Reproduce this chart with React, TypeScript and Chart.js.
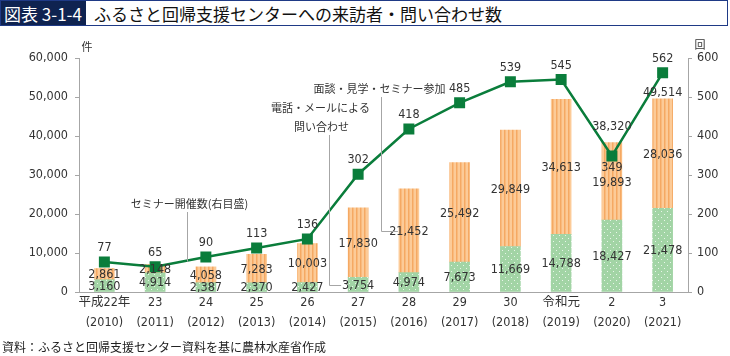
import React, { useEffect, useRef } from "react";
import { Chart, registerables } from "chart.js";

Chart.register(...registerables);

const categories: string[][] = [
  ["平成22年", "(2010)"],
  ["23", "(2011)"],
  ["24", "(2012)"],
  ["25", "(2013)"],
  ["26", "(2014)"],
  ["27", "(2015)"],
  ["28", "(2016)"],
  ["29", "(2017)"],
  ["30", "(2018)"],
  ["令和元", "(2019)"],
  ["2", "(2020)"],
  ["3", "(2021)"],
];
const phoneInquiries = [3160, 4914, 2387, 2370, 2427, 3754, 4974, 7673, 11669, 14788, 18427, 21478];
const visits = [2861, 2148, 4058, 7283, 10003, 17830, 21452, 25492, 29849, 34613, 19893, 28036];
const seminars = [77, 65, 90, 113, 136, 302, 418, 485, 539, 545, 349, 562];
const totalsShown: (number | null)[] = [null, null, null, null, null, null, null, null, null, null, 38320, 49514];
const leftTicks = [0, 10000, 20000, 30000, 40000, 50000, 60000];
const rightTicks = [0, 100, 200, 300, 400, 500, 600];

const FONT = "'Noto Sans CJK JP', 'Noto Sans', sans-serif";
const NUMFONT = "'Liberation Sans Narrow', 'DejaVu Sans Condensed', 'Noto Sans CJK JP', sans-serif";
const TXT = "#333333";
const LINE_GREEN = "#0a7d3b";

function makeGreenPattern(): CanvasPattern | string {
  const c = document.createElement("canvas");
  c.width = 6;
  c.height = 6;
  const g = c.getContext("2d");
  if (!g) return "#a2d6a4";
  g.fillStyle = "#a2d4a5";
  g.fillRect(0, 0, 6, 6);
  g.fillStyle = "#e8f5e9";
  g.fillRect(1, 1, 1, 1);
  g.fillRect(4, 4, 1, 1);
  return g.createPattern(c, "repeat") || "#a2d6a4";
}

function makeOrangePattern(): CanvasPattern | string {
  const c = document.createElement("canvas");
  c.width = 4;
  c.height = 4;
  const g = c.getContext("2d");
  if (!g) return "#f9c18a";
  g.fillStyle = "#fccb98";
  g.fillRect(0, 0, 4, 4);
  g.fillStyle = "#f5a963";
  g.fillRect(0, 0, 1.5, 4);
  return g.createPattern(c, "repeat") || "#f9c18a";
}

const fmt = (v: number) => v.toLocaleString("en-US");

const labelsPlugin = {
  id: "customLabels",
  afterDatasetsDraw(chart: any) {
    const ctx: CanvasRenderingContext2D = chart.ctx;
    ctx.save();
    ctx.font = `12.5px ${NUMFONT}`;
    ctx.fillStyle = TXT;
    ctx.textAlign = "center";
    ctx.textBaseline = "middle";
    // bar segment labels
    [0, 1].forEach((di) => {
      const meta = chart.getDatasetMeta(di);
      meta.data.forEach((el: any, i: number) => {
        const v = chart.data.datasets[di].data[i] as number;
        const cy = (el.y + el.base) / 2;
        ctx.fillText(fmt(v), el.x, cy + 1);
      });
    });
    // totals
    const topMeta = chart.getDatasetMeta(1);
    topMeta.data.forEach((el: any, i: number) => {
      const t = totalsShown[i];
      if (t == null) return;
      const off = i === 10 ? 16 : 6;
      ctx.fillText(fmt(t), el.x, el.y - off);
    });
    // line labels
    const lineMeta = chart.getDatasetMeta(2);
    lineMeta.data.forEach((el: any, i: number) => {
      const v = seminars[i];
      if (i === 10) ctx.fillText(String(v), el.x, el.y + 12);
      else ctx.fillText(String(v), el.x, el.y - 14);
    });
    ctx.restore();
  },
  afterDraw(chart: any) {
    const ctx: CanvasRenderingContext2D = chart.ctx;
    const xs = chart.scales.x;
    const y = chart.scales.y;
    const y1 = chart.scales.y1;
    const area = chart.chartArea;
    ctx.save();
    ctx.font = `11px ${FONT}`;
    ctx.fillStyle = TXT;
    ctx.textBaseline = "middle";
    // axis unit titles
    ctx.textAlign = "center";
    ctx.fillText("件", area.left + 8, area.top - 11);
    ctx.fillText("回", area.right + 12, area.top - 13);

    // annotations
    ctx.strokeStyle = "#a6a6a6";
    ctx.lineWidth = 1;
    const bx = (i: number) => xs.getPixelForValue(i);

    // seminar count label
    const segX = (bx(1) + bx(2)) / 2 + 6;
    ctx.fillText("セミナー開催数(右目盛)", segX + 3, 204);
    ctx.beginPath();
    ctx.moveTo(Math.round(segX) + 0.5, 212);
    ctx.lineTo(Math.round(segX) + 0.5, y1.getPixelForValue(78));
    ctx.stroke();

    // phone / mail inquiries
    const phX = Math.round(bx(5) - 29) + 0.5;
    ctx.fillText("電話・メールによる", phX - 9, 108);
    ctx.fillText("問い合わせ", phX - 8, 127);
    const phY = Math.round(y.getPixelForValue(phoneInquiries[5] / 2)) + 0.5;
    ctx.beginPath();
    ctx.moveTo(phX, 135);
    ctx.lineTo(phX, phY);
    ctx.lineTo(bx(5) - 17, phY);
    ctx.stroke();

    // visits
    const vX = Math.round(bx(6) - 28) + 0.5;
    ctx.fillText("面談・見学・セミナー参加", vX - 2, 89);
    const vY = Math.round(y.getPixelForValue(phoneInquiries[6] + visits[6] / 2)) + 0.5;
    ctx.beginPath();
    ctx.moveTo(vX, 97);
    ctx.lineTo(vX, vY);
    ctx.lineTo(bx(6) - 11, vY);
    ctx.stroke();
    ctx.restore();
  },
};

export default function App() {
  const ref = useRef<HTMLCanvasElement | null>(null);

  useEffect(() => {
    if (!ref.current) return;
    const green = makeGreenPattern();
    const orange = makeOrangePattern();
    const chart = new Chart(ref.current, {
      type: "bar",
      data: {
        labels: categories,
        datasets: [
          {
            type: "bar",
            label: "電話・メールによる問い合わせ",
            data: phoneInquiries,
            backgroundColor: green as any,
            barThickness: 20,
            stack: "s",
            yAxisID: "y",
            order: 2,
          },
          {
            type: "bar",
            label: "面談・見学・セミナー参加",
            data: visits,
            backgroundColor: orange as any,
            barThickness: 20,
            stack: "s",
            yAxisID: "y",
            order: 2,
          },
          {
            type: "line",
            label: "セミナー開催数",
            data: seminars,
            borderColor: LINE_GREEN,
            backgroundColor: LINE_GREEN,
            borderWidth: 2.5,
            pointStyle: "rect",
            pointRadius: 6,
            pointHoverRadius: 6,
            yAxisID: "y1",
            order: 0,
          } as any,
        ],
      },
      options: {
        animation: false,
        responsive: false,
        events: [],
        layout: { padding: { left: 0, right: 0, top: 58, bottom: 0 } },
        plugins: {
          legend: { display: false },
          tooltip: { enabled: false },
        },
        scales: {
          x: {
            stacked: true,
            grid: { display: false, drawTicks: false },
            border: { display: true, color: "#a6a6a6", width: 1 },
            ticks: {
              color: TXT,
              font: { family: NUMFONT, size: 12.5, lineHeight: 1.6 },
              padding: 1,
              maxRotation: 0,
              autoSkip: false,
            },
            afterFit: (s: any) => {
              s.height = 64;
            },
          },
          y: {
            stacked: true,
            position: "left",
            min: 0,
            max: 60000,
            afterBuildTicks: (s: any) => {
              s.ticks = leftTicks.map((v) => ({ value: v }));
            },
            grid: {
              drawOnChartArea: false,
              drawTicks: true,
              tickLength: 4,
              color: "#a6a6a6",
            },
            border: { display: true, color: "#a6a6a6", width: 1 },
            ticks: {
              color: TXT,
              font: { family: NUMFONT, size: 12.5 },
              padding: 7,
              callback: (v: any) => fmt(Number(v)),
            },
            afterFit: (s: any) => {
              s.width = 79;
            },
          },
          y1: {
            position: "right",
            min: 0,
            max: 600,
            afterBuildTicks: (s: any) => {
              s.ticks = rightTicks.map((v) => ({ value: v }));
            },
            grid: {
              drawOnChartArea: false,
              drawTicks: true,
              tickLength: 4,
              color: "#a6a6a6",
            },
            border: { display: true, color: "#a6a6a6", width: 1 },
            ticks: {
              color: TXT,
              font: { family: NUMFONT, size: 12.5 },
              padding: 5,
            },
            afterFit: (s: any) => {
              s.width = 42;
            },
          },
        },
      } as any,
      plugins: [labelsPlugin],
    });
    return () => chart.destroy();
  }, []);

  return (
    <div style={{ position: "fixed", left: 0, top: 0, width: 730, height: 356, background: "#fff", overflow: "hidden" }}>
      <canvas ref={ref} width={730} height={356} style={{ position: "absolute", left: 0, top: 0, width: 730, height: 356 }} />
      <div
        style={{
          position: "absolute",
          left: 0,
          top: 0,
          width: 726,
          height: 24,
          border: "1px solid #1f3a86",
          display: "flex",
          alignItems: "center",
          fontFamily: FONT,
          fontSize: 17,
          color: "#111",
          background: "#fff",
        }}
      >
        <span
          style={{
            background: "#0f2350",
            color: "#fff",
            height: "100%",
            display: "flex",
            alignItems: "center",
            padding: "0 4px 0 3px",
            marginRight: 8,
            whiteSpace: "nowrap",
          }}
        >
          図表 3-1-4
        </span>
        <span style={{ whiteSpace: "nowrap" }}>ふるさと回帰支援センターへの来訪者・問い合わせ数</span>
      </div>
      <div
        style={{
          position: "absolute",
          left: 2,
          top: 339,
          fontFamily: FONT,
          fontSize: 12,
          color: "#222",
          whiteSpace: "nowrap",
          lineHeight: "16px",
        }}
      >
        資料：ふるさと回帰支援センター資料を基に農林水産省作成
      </div>
    </div>
  );
}
